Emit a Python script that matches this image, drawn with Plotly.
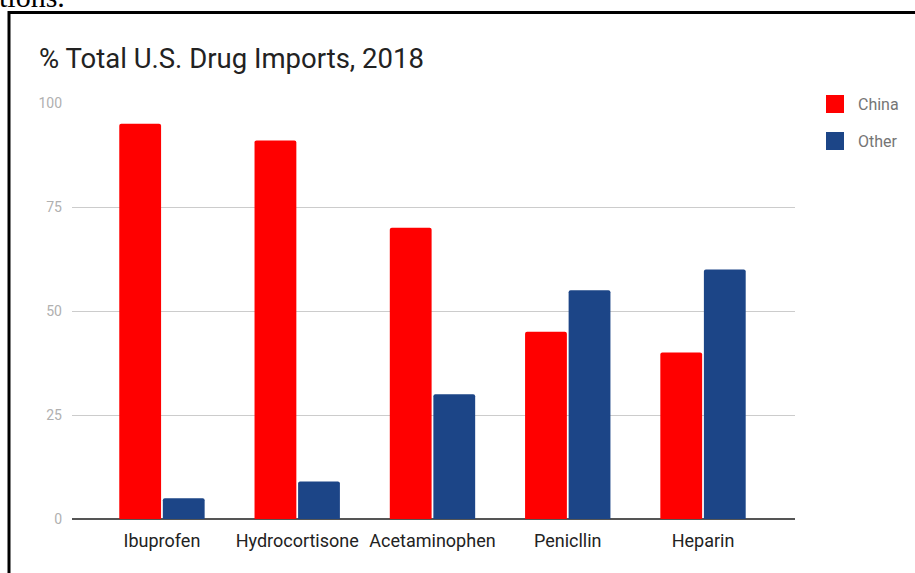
import plotly.graph_objects as go

categories = ["Ibuprofen", "Hydrocortisone", "Acetaminophen", "Penicllin", "Heparin"]
china = [95, 91, 70, 45, 40]
other = [5, 9, 30, 55, 60]
series_names = ["China", "Other"]
colors = ["#ff0000", "#1c4587"]
y_ticks = [0, 25, 50, 75, 100]

W, H = 915, 573
L, R, T, B = 72, 120, 103, 54

fig = go.Figure()
fig.add_trace(go.Bar(x=categories, y=china, name=series_names[0], marker_color=colors[0],
                     marker_line_width=0))
fig.add_trace(go.Bar(x=categories, y=other, name=series_names[1], marker_color=colors[1],
                     marker_line_width=0))

pw = W - L - R
ph = H - T - B

def px_x(x):
    return (x - L) / pw

def px_y(y):
    return 1 - (y - T) / ph

shapes = []
# outer frame (part of the screenshot)
shapes.append(dict(type="rect", xref="paper", yref="paper",
                   x0=px_x(9), x1=px_x(W + 20), y0=px_y(12.5), y1=px_y(H + 20),
                   line=dict(color="#000000", width=3), fillcolor="rgba(0,0,0,0)", layer="above"))
annotations = []
# legend
for i, (nm, c) in enumerate(zip(series_names, colors)):
    cy = 104 + 37 * i
    shapes.append(dict(type="rect", xref="paper", yref="paper",
                       x0=px_x(826), x1=px_x(844), y0=px_y(cy - 9), y1=px_y(cy + 9),
                       fillcolor=c, line=dict(width=0)))
    annotations.append(dict(text=nm, xref="paper", yref="paper", x=px_x(856), y=px_y(cy),
                            xanchor="left", yanchor="middle", showarrow=False,
                            font=dict(family="Roboto", size=16, color="#757575")))
# title
annotations.append(dict(text="% Total U.S. Drug Imports, 2018", xref="paper", yref="paper",
                        x=px_x(37), y=px_y(58), xanchor="left", yanchor="middle", showarrow=False,
                        font=dict(family="Roboto", size=27.5, color="#222222")))
# cut-off text above the frame
annotations.append(dict(text="tions.", xref="paper", yref="paper",
                        x=px_x(-3), y=px_y(-4), xanchor="left", yanchor="middle", showarrow=False,
                        font=dict(family="Liberation Serif", size=30, color="#000000")))

fig.update_layout(
    width=W, height=H,
    margin=dict(l=L, r=R, t=T, b=B, pad=0),
    paper_bgcolor="white", plot_bgcolor="white",
    showlegend=False,
    barmode="group", bargap=0.356, bargroupgap=0.04,
    barcornerradius=2,
    shapes=shapes, annotations=annotations,
    xaxis=dict(range=[-0.665, 4.68], showgrid=False, showline=False, ticks="",
               tickfont=dict(family="Roboto", size=18, color="#222222"),
               ticklabelstandoff=9),
    yaxis=dict(range=[0, 100], tickvals=y_ticks, showgrid=True, gridcolor="#cccccc", gridwidth=1,
               zeroline=True, zerolinecolor="#555555", zerolinewidth=2, showline=False,
               tickfont=dict(family="Roboto", size=14, color="#b0b0b0"),
               ticklabelstandoff=9),
)

fig.write_html("out.html")
